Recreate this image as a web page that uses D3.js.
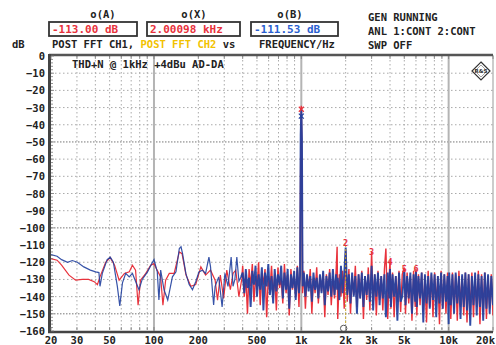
<!DOCTYPE html>
<html><head><meta charset="utf-8">
<script src="https://cdn.jsdelivr.net/npm/d3@7"></script>
<style>html,body{margin:0;padding:0;background:#fff;}svg{display:block;}</style>
</head><body>
<svg id="c" width="496" height="345"></svg>
<script>
// ---------- data ----------
const yTicks = [0,-10,-20,-30,-40,-50,-60,-70,-80,-90,-100,-110,-120,-130,-140,-150,-160];
const xTickVals = [20,30,50,100,200,500,1000,2000,3000,5000,10000,20000];
const xTickLabels = ["20","30","50","100","200","500","1k","2k","3k","5k","10k","20k"];
const xGridMinor = [30,40,50,60,70,80,90,200,300,400,500,600,700,800,900,2000,3000,4000,5000,6000,7000,8000,9000];
const xGridMajor = [100,1000,10000];

// low-frequency part of the spectra: [Hz, dB]
const blueLow = [[20,-115.6],[22,-116.5],[23.6,-118.5],[25.9,-120],[27.9,-119],[30.2,-120],[33.4,-122.7],[37,-124.6],[40.2,-125.6],[42.3,-126],[43,-134],[44.6,-126.5],[48.1,-118.5],[50.5,-117],[53,-120],[56.4,-134],[58.6,-145.4],[61.1,-132],[64.3,-126.5],[67.9,-128.5],[71.4,-126.5],[75.2,-131.3],[79.1,-136],[83.2,-130],[90.4,-125.6],[97.7,-120],[100,-118.5],[105.3,-125.6],[108,-142],[111,-124.6],[117,-136],[124,-142],[133.4,-128.5],[141,-125.6],[148.6,-112],[152.6,-111],[156.3,-115],[164.6,-126.5],[173.3,-133],[182.5,-136],[192,-131.3],[202,-125.6],[213,-124.6],[224,-126.5],[236,-117],[242,-122.7],[254,-144.8],[260,-134],[275,-128.5],[290,-146],[303,-126.5],[318,-134],[334,-117],[344,-134],[354,-130],[365,-117],[377,-131],[390,-128.5]];
const redLow = [[20,-117.9],[22,-118.8],[23.6,-121.7],[26.5,-127.5],[29.4,-130.4],[32.6,-130],[36,-130],[39.3,-131.3],[41.3,-133],[43,-128.5],[47,-120],[50.5,-117.3],[54,-121.7],[58,-130.4],[63,-126.5],[68,-125.6],[71.4,-121.7],[75,-124.6],[78,-145],[81,-130.4],[88,-126.5],[95,-121.7],[100,-120.8],[105,-124.6],[111,-128.5],[115,-145],[120,-130.4],[127,-126.5],[137,-126.5],[148.6,-114],[155,-115],[165,-127.5],[178,-134],[192,-133],[208,-122.7],[224,-127.5],[242,-124.6],[260,-130.4],[270,-142],[282,-127.5],[297,-141],[312,-124.6],[330,-136],[344,-126.5],[359,-124.6],[377,-140],[395,-129.4]];

// FFT bins from 400 Hz to 20 kHz (shared frequencies)
const noiseFreq = [400,410,420,431,442,453,465,477,489,500,513,526,540,553,567,582,597,612,628,644,660,677,694,712,730,749,768,788,808,828,850,871,894,916,940,964,980,990,1000,1010,1020,1040,1066,1093,1121,1150,1179,1209,1240,1272,1305,1338,1372,1407,1443,1480,1518,1557,1597,1638,1680,1723,1750,1767,1812,1858,1906,1955,2000,2050,2103,2157,2212,2268,2326,2386,2447,2510,2574,2640,2707,2777,2848,2920,3000,3072,3150,3231,3314,3399,3486,3575,3666,3750,3857,3955,4000,4057,4161,4267,4377,4489,4604,4722,4843,5000,5094,5225,5358,5496,5636,5781,5929,6000,6081,6237,6397,6561,6729,6901,7078,7259,7445,7636,7831,8032,8237,8449,8665,8887,9115,9348,9588,9834,10000,10085,10344,10609,10881,11160,11446,11739,12040,12349,12665,12990,13323,13664,14015,14374,14742,15120,15508,15905,16313,16731,17160,17600,18051,18514,18988,19475,20000];
const blueNoise = [-126,-138,-124,-135,-129,-146,-125,-133,-122,-140,-127,-136,-123,-148,-126,-134,-121,-139,-128,-144,-124,-137,-127,-133,-122,-141,-126,-136,-124,-147,-127,-135,-125,-142,-123,-138,-128,-46,-31,-48,-134,-126,-140,-127,-137,-128,-143,-126,-136,-129,-141,-127,-138,-125,-145,-128,-137,-126,-140,-124,-139,-127,-136,-129,-142,-122,-138,-127,-111.5,-139,-127,-144,-126,-140,-128,-150,-127,-141,-126,-146,-128,-139,-127,-143,-122,-148,-127,-140,-126,-145,-128,-141,-127,-152,-126,-141,-124,-146,-127,-140,-128,-154,-126,-143,-140,-125,-145,-128,-141,-126,-150,-127,-143,-125,-146,-128,-141,-126,-155,-127,-144,-128,-147,-126,-142,-127,-152,-128,-144,-126,-147,-127,-143,-128,-156,-126,-145,-127,-150,-126,-144,-128,-153,-127,-146,-126,-148,-127,-157,-128,-145,-126,-151,-127,-146,-128,-154,-126,-147,-127,-150,-128,-145];
const redNoise = [-122,-140,-127,-150,-124,-134,-121,-143,-128,-136,-120,-145,-126,-133,-124,-152,-128,-137,-122,-141,-127,-148,-123,-135,-129,-144,-121,-138,-127,-151,-124,-136,-128,-140,-122,-146,-126,-60,-29,-62,-138,-125,-147,-128,-135,-124,-150,-129,-138,-123,-144,-128,-137,-126,-152,-127,-139,-124,-145,-128,-141,-125,-111,-153,-127,-140,-125,-147,-113,-143,-124,-150,-128,-139,-122,-146,-127,-141,-125,-153,-128,-142,-123,-148,-114,-145,-127,-151,-125,-142,-128,-148,-124,-112,-153,-127,-119,-147,-126,-152,-128,-143,-125,-149,-127,-123,-150,-126,-144,-128,-154,-125,-146,-124,-151,-127,-145,-126,-149,-128,-155,-125,-146,-127,-152,-126,-144,-128,-156,-125,-147,-127,-150,-126,-145,-128,-153,-126,-147,-127,-154,-125,-146,-128,-151,-126,-155,-127,-148,-126,-152,-128,-146,-125,-156,-127,-149,-126,-153,-128,-147,-127,-151];

// harmonic markers
const harmLabels = ["2","3","4","5","6"];
const harmFreq = [2000,3000,4000,5000,6000];
const harmDb = [-109,-114,-120,-124,-124];
// fundamental peak markers
const peakFreq = 1000;
const peakRedDb = -31;
const peakBlueDb = -35;
// cursor
const cursorFreq = 2000;
const cursorTopDb = -110;
const cursorBottomDb = -155;

// header texts
const cursorA = "-113.00 dB", cursorX = "2.00098 kHz", cursorB = "-111.53 dB";

// ---------- drawing ----------
const svg = d3.select("#c");
const FONT = "'DejaVu Sans Mono', 'Liberation Mono', monospace";
const RED = "#e8323c", BLUE = "#21409e", YEL = "#f2c200", DARK = "#222";

const x = d3.scaleLog().domain([20,20000]).range([51,493]);
const y = d3.scaleLinear().domain([-160,0]).range([331,56]);

function txt(s, px, py, opt={}) {
  return svg.append("text").attr("x",px).attr("y",py)
    .attr("font-family",FONT).attr("font-weight","bold")
    .attr("font-size",opt.size||10.5).attr("fill",opt.fill||DARK)
    .attr("text-anchor",opt.anchor||"start").text(s);
}

// header
txt("o(A)",103,18,{anchor:"middle"});
txt("o(X)",194,18,{anchor:"middle"});
txt("o(B)",290,18,{anchor:"middle"});
[[49,137,cursorA,RED],[147,240,cursorX,RED],[251,338,cursorB,"#2a5fd0"]].forEach(b=>{
  svg.append("rect").attr("x",b[0]).attr("y",22).attr("width",b[1]-b[0]).attr("height",14)
    .attr("fill","#fff").attr("stroke","#333").attr("stroke-width",1.8);
  txt(b[2], b[0]+3, 33, {fill:b[3], size:11});
});
txt("dB",12,48);
const row = svg.append("text").attr("x",52).attr("y",48).attr("font-family",FONT)
  .attr("font-weight","bold").attr("font-size",10.5).attr("fill",DARK);
row.append("tspan").text("POST FFT CH1, ");
row.append("tspan").attr("fill",YEL).text("POST FFT CH2");
row.append("tspan").text(" vs");
txt("FREQUENCY/Hz",259,48);
txt("GEN RUNNING",368,21);
txt("ANL 1:CONT 2:CONT",368,35);
txt("SWP OFF",368,49);

// grid
const g = svg.append("g");
yTicks.filter(v=>v<0 && v>-160).forEach(v=>{
  const strong = (v%50===0);
  g.append("line").attr("x1",51).attr("x2",493).attr("y1",y(v)).attr("y2",y(v))
    .attr("stroke",strong?"#777":"#aaa").attr("stroke-width",1)
    .attr("stroke-dasharray",strong?"1.5,1.5":"1.5,2.5");
});
xGridMinor.forEach(f=>{
  g.append("line").attr("x1",x(f)).attr("x2",x(f)).attr("y1",56).attr("y2",331)
    .attr("stroke","#aaa").attr("stroke-dasharray","1.5,2.5");
});
xGridMajor.forEach(f=>{
  g.append("line").attr("x1",x(f)).attr("x2",x(f)).attr("y1",56).attr("y2",331)
    .attr("stroke","#b4b4b4").attr("stroke-width",2);
});
g.append("line").attr("x1",493).attr("x2",493).attr("y1",55).attr("y2",332).attr("stroke","#999").attr("stroke-width",1);

// inner title
txt("THD+N @ 1kHz +4dBu AD-DA",72,68);

// logo
const lg = svg.append("g").attr("transform",`translate(481,71)`);
lg.append("path").attr("d","M0,-9 L9,0 L0,9 L-9,0 Z").attr("fill","#fff").attr("stroke","#333").attr("stroke-width",1.2);
lg.append("path").attr("d","M0,-6 L6,0 L0,6 L-6,0 Z").attr("fill","none").attr("stroke","#666").attr("stroke-width",0.6);
lg.append("text").attr("x",0).attr("y",2).attr("text-anchor","middle").attr("font-family","DejaVu Sans")
  .attr("font-weight","bold").attr("font-size",5.5).attr("fill","#333").text("R&S");

// traces
svg.append("clipPath").attr("id","clip").append("rect").attr("x",51).attr("y",56).attr("width",442).attr("height",275);
const line = d3.line().x(d=>x(d[0])).y(d=>y(d[1]));
const redN = [redLow[redLow.length-1]].concat(noiseFreq.map((f,i)=>[f,redNoise[i]]));
const blueN = [blueLow[blueLow.length-1]].concat(noiseFreq.map((f,i)=>[f,blueNoise[i]]));
const tr = svg.append("g").attr("clip-path","url(#clip)");
tr.append("path").attr("d",line(redLow)).attr("fill","none").attr("stroke",RED).attr("stroke-width",1.2);
tr.append("path").attr("d",line(redN)).attr("fill","none").attr("stroke",RED).attr("stroke-width",1.4);
tr.append("path").attr("d",line(blueLow)).attr("fill","none").attr("stroke",BLUE).attr("stroke-width",1.2).attr("stroke-opacity",0.9);
tr.append("path").attr("d",line(blueN)).attr("fill","none").attr("stroke",BLUE).attr("stroke-width",1.9).attr("stroke-opacity",0.93);

// cursor
tr.append("line").attr("x1",x(cursorFreq)).attr("x2",x(cursorFreq)).attr("y1",y(cursorTopDb)).attr("y2",y(cursorBottomDb)+3)
  .attr("stroke","#c8a820").attr("stroke-width",1).attr("stroke-dasharray","2,2");
tr.append("circle").attr("cx",x(cursorFreq)-2).attr("cy",y(cursorBottomDb)+6).attr("r",3.2)
  .attr("fill","#fff").attr("stroke","#555").attr("stroke-width",1);

// harmonic labels
harmLabels.forEach((h,i)=>{
  txt(h, x(harmFreq[i]), y(harmDb[i])+3, {fill:RED, anchor:"middle", size:8.5});
});
// peak markers
function cross(f,db,col){
  const cx=x(f), cy=y(db);
  tr.append("path").attr("d",`M${cx-2.5},${cy-2.5}L${cx+2.5},${cy+2.5}M${cx-2.5},${cy+2.5}L${cx+2.5},${cy-2.5}`)
    .attr("stroke",col).attr("stroke-width",1.2);
}
cross(peakFreq,peakRedDb,RED);
cross(peakFreq,peakBlueDb,BLUE);

// axes frame
svg.append("line").attr("x1",49).attr("x2",493).attr("y1",55).attr("y2",55).attr("stroke","#555").attr("stroke-width",2.5);
svg.append("line").attr("x1",49.5).attr("x2",49.5).attr("y1",54).attr("y2",333).attr("stroke","#444").attr("stroke-width",3);
svg.append("line").attr("x1",48).attr("x2",493).attr("y1",332).attr("y2",332).attr("stroke","#444").attr("stroke-width",2.5);
d3.range(-160,1,2).forEach(v=>{
  svg.append("line").attr("x1",51).attr("x2",v%10===0?54:53).attr("y1",y(v)).attr("y2",y(v)).attr("stroke","#777").attr("stroke-width",0.8);
});
xGridMinor.concat(xGridMajor,[20,20000]).forEach(f=>{
  svg.append("line").attr("x1",x(f)).attr("x2",x(f)).attr("y1",330).attr("y2",327).attr("stroke","#777").attr("stroke-width",0.8);
  svg.append("line").attr("x1",x(f)).attr("x2",x(f)).attr("y1",56).attr("y2",59).attr("stroke","#777").attr("stroke-width",0.8);
});

// tick labels
yTicks.forEach(v=>{
  txt(String(v).replace("-","\u2212"), 45, y(v)+4, {anchor:"end"});
});
xTickVals.forEach((f,i)=>{
  const last = i===xTickVals.length-1;
  txt(xTickLabels[i], last ? 495 : x(f), 344, {anchor: last ? "end" : "middle"});
});
</script>
</body></html>
